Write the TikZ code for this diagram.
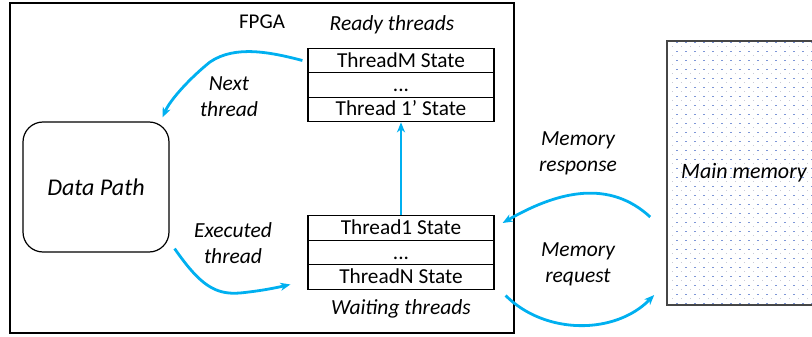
\documentclass[tikz,border=0pt]{standalone}
\usepackage{fontspec}
\setmainfont{Carlito}
\usetikzlibrary{arrows.meta,calc}
\definecolor{arr}{RGB}{0,176,240}
\definecolor{dotblue}{RGB}{125,150,215}
\definecolor{dotgrey}{RGB}{200,202,215}
\definecolor{memborder}{RGB}{70,70,70}
\begin{document}
\begin{tikzpicture}[x=1pt,y=-1pt,
  cell/.style={draw, line width=1.2pt, minimum width=186pt, minimum height=24.5pt, inner sep=0pt, text height=15.5pt, text depth=2.5pt, font=\fontsize{21.3}{24}\selectfont},
  lbl/.style={font=\fontsize{21.5}{26}\selectfont\itshape, align=center},
  flow/.style={draw=arr, line width=2.8pt, -{Stealth[length=10pt,width=8pt,inset=3pt]}}]
\useasboundingbox (0,0) rectangle (812,337);
% FPGA box
\node[draw, line width=1.2pt, minimum width=504pt, minimum height=330pt, inner sep=0pt] (fpga) at (262,168) {};
\node[font=\fontsize{21}{24}\selectfont] (fpgalbl) at (262,22) {FPGA};
% ready threads
\node[lbl] (rlbl) at (392,25) {Ready threads};
\node[cell] (rM) at (401,60.5) {ThreadM State};
\node[cell] (rD) at (401,85) {...};
\node[cell] (r1) at (401,109.5) {Thread 1’ State};
% waiting threads
\node[cell] (w1) at (401,228) {Thread1 State};
\node[cell] (wD) at (401,252.5) {...};
\node[cell] (wN) at (401,277) {ThreadN State};
\node[lbl] (wlbl) at (401,309) {Waiting threads};
% data path
\node[draw, line width=1.2pt, rounded corners=20pt, minimum width=146pt, minimum height=130pt, font=\fontsize{24}{28}\selectfont\itshape] (dp) at (96,187) {Data Path};
% main memory dots
\begin{scope}
\clip (667,41) rectangle (812,305);
\foreach \i in {0,...,16} {
  \foreach \j in {0,...,29} {
    \fill[dotblue] (676.7+9*\i-1,42.3+9*\j-0.6) rectangle ++(2.2,1.4);
    \fill[dotgrey] (672.2+9*\i-0.7,46.8+9*\j-0.6) rectangle ++(1.4,1.2);
  }
}
\end{scope}
\node[draw=memborder, line width=1.6pt, minimum width=154pt, minimum height=264pt, inner sep=0pt, font=\fontsize{22}{26}\selectfont\itshape] (mem) at (744,173) {Main memory};
% labels
\node[lbl] (nlbl) at (229,97) {Next\\thread};
\node[lbl] (elbl) at (233,243) {Executed\\thread};
\node[lbl] (rsp) at (578,153) {Memory\\response};
\node[lbl] (rqs) at (578,264) {Memory\\request};
% arrows
\draw[flow] ($(rM.west)+(-5,0)$) .. controls (270,52) and (235,45) .. (210,62) .. controls (190,78) and (170,100) .. ($(dp.north east)+(-7,-4)$);
\draw[flow] ($(dp.south east)+(5,-4)$) .. controls (200,285) and (215,295) .. (240,293) .. controls (260,291) and (275,288) .. ($(wN.west)+(-17,7.5)$);
\draw[flow] (w1.north) -- (r1.south);
\draw[flow] ($(mem.west)+(-16,44)$) .. controls (610,180) and (560,190) .. ($(w1.east)+(8,-5)$);
\draw[flow] ($(wN.east)+(11,18.5)$) .. controls (545,335) and (615,335) .. ($(mem.west)+(-12,122)$);
\end{tikzpicture}
\end{document}
